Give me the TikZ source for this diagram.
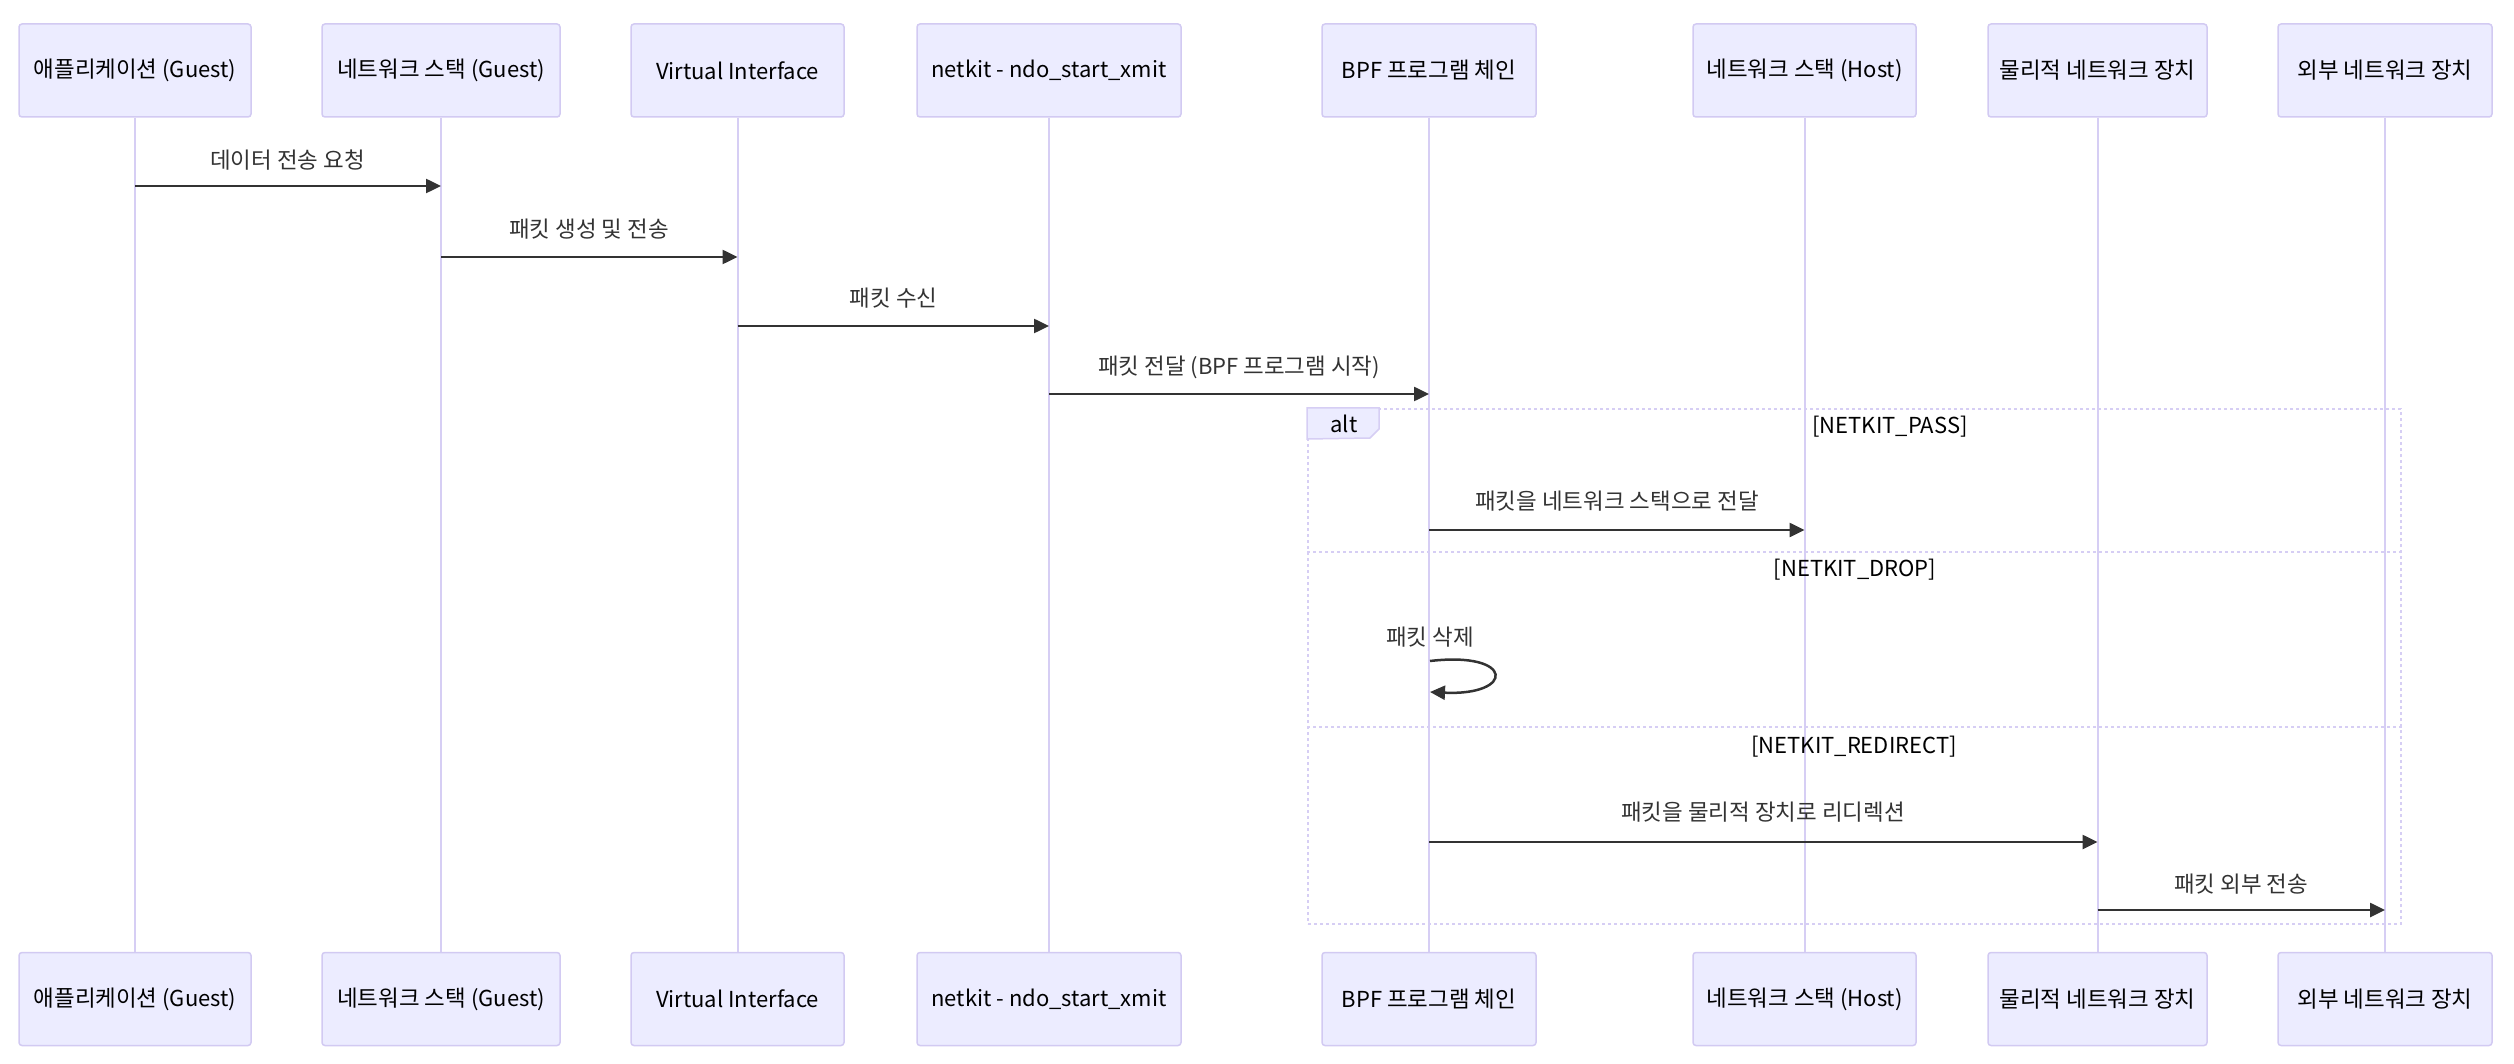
\documentclass[tikz,border=0pt]{standalone}
\usepackage{fontspec}
\setmainfont{Noto Sans CJK KR}
\newfontfamily\kr[Scale=1.02]{Noto Sans CJK KR}
\usetikzlibrary{arrows.meta}
\definecolor{actfill}{HTML}{ECECFF}
\definecolor{actborder}{HTML}{D2CAF2}
\definecolor{actline}{HTML}{D6CEF4}
\definecolor{msgc}{HTML}{333333}
\begin{document}
\begin{tikzpicture}[x=1pt,y=-1pt,
  actor/.style={draw=actborder,line width=1.5pt,fill=actfill,rounded corners=3pt,minimum height=93pt,inner sep=0pt,font=\fontsize{22}{26}\selectfont,text=black},
  life/.style={draw=actline,line width=2pt},
  msg/.style={draw=msgc,line width=2.5pt,-{Triangle[length=15pt,width=14pt]}},
  lbl/.style={font=\fontsize{22}{26}\selectfont,text=msgc,inner sep=0pt},
  frm/.style={draw=actline,line width=2pt,dash pattern=on 3pt off 3pt,inner sep=0pt}]
\useasboundingbox (0,0) rectangle (2514,1064);
% actors
\foreach \n/\cx/\w/\t in {
  a1/135/232/{{\kr 애플리케이션} (Guest)},
  a2/441/238/{{\kr 네트워크 스택} (Guest)},
  a3/737.5/213/{Virtual Interface},
  a4/1049/264/{netkit - ndo\_start\_xmit},
  a5/1429/214/{BPF {\kr 프로그램 체인}},
  a6/1804.5/223/{{\kr 네트워크 스택} (Host)},
  a7/2097.5/219/{\kr 물리적 네트워크 장치},
  a8/2385/214/{\kr 외부 네트워크 장치}} {
  \node[actor,minimum width=\w pt] (\n t) at (\cx,70.5) {\t};
  \node[actor,minimum width=\w pt] (\n b) at (\cx,999) {\t};
  \draw[life] (\n t.south) -- (\n b.north);
}
% alt frame
\node[frm,minimum width=1093pt,minimum height=515pt] (alt) at (1854.5,666.5) {};
\coordinate (d1) at (0,552);
\coordinate (d2) at (0,727);
\draw[frm] (alt.west |- d1) -- (alt.east |- d1);
\draw[frm] (alt.west |- d2) -- (alt.east |- d2);
\draw[draw=actline,line width=1.5pt,fill=actfill] (alt.north west) -- ++(72,0) -- ++(0,21) -- ++(-9,9) -- (alt.north west |- 0,439) -- cycle;
\node[lbl,text=black] (altl) at (1344,424) {alt};
\node[lbl,text=black] (c1) at (1890,427) {[NETKIT\_PASS]};
\node[lbl,text=black] (c2) at (1855,570) {[NETKIT\_DROP]};
\node[lbl,text=black] (c3) at (1854,747) {[NETKIT\_REDIRECT]};
% message rows
\coordinate (r1) at (0,186);
\coordinate (r2) at (0,257);
\coordinate (r3) at (0,326);
\coordinate (r4) at (0,394);
\coordinate (r5) at (0,530);
\coordinate (r7) at (0,842);
\coordinate (r8) at (0,910);
\draw[msg] (a1t.south |- r1) -- (a2t.south |- r1);
\draw[msg] (a2t.south |- r2) -- (a3t.south |- r2);
\draw[msg] (a3t.south |- r3) -- (a4t.south |- r3);
\draw[msg] (a4t.south |- r4) -- (a5t.south |- r4);
\draw[msg] (a5t.south |- r5) -- (a6t.south |- r5);
\draw[msg] (a5t.south |- r7) -- (a7t.south |- r7);
\draw[msg] (a7t.south |- r8) -- (a8t.south |- r8);
\coordinate (s1) at (1430,661);
\coordinate (s2) at (1430,692);
\draw[msg] (s1) .. controls (1515,651) and (1515,696) .. (s2);
% labels
\node[lbl] (l1) at (287.5,160) {\kr 데이터 전송 요청};
\node[lbl] (l2) at (589,229) {\kr 패킷 생성 및 전송};
\node[lbl] (l3) at (893.5,298) {\kr 패킷 수신};
\node[lbl] (l4) at (1239,367) {{\kr 패킷 전달} (BPF {\kr 프로그램 시작})};
\node[lbl] (l5) at (1617,501) {\kr 패킷을 네트워크 스택으로 전달};
\node[lbl] (l6) at (1430,637) {\kr 패킷 삭제};
\node[lbl] (l7) at (1763,812) {\kr 패킷을 물리적 장치로 리디렉션};
\node[lbl] (l8) at (2241,884) {\kr 패킷 외부 전송};
\end{tikzpicture}
\end{document}
